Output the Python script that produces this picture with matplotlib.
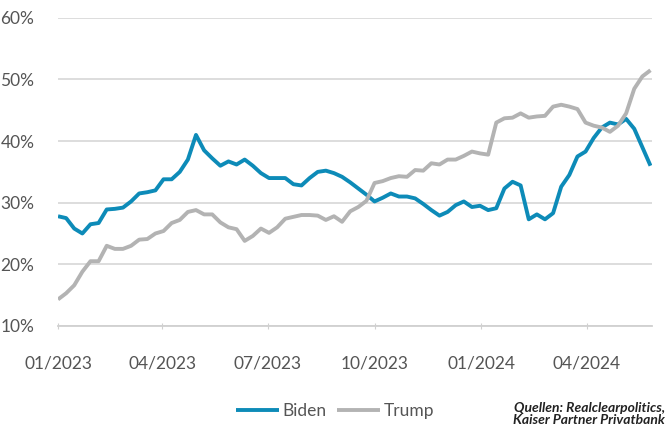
import numpy as np
import pandas as pd
import matplotlib
matplotlib.use("Agg")
import matplotlib.pyplot as plt
import matplotlib.dates as mdates
from matplotlib.ticker import FuncFormatter

plt.rcParams['font.family'] = ['Lato', 'DejaVu Sans']

# weekly poll values (%)
biden = [27.8, 27.5, 25.8, 25.0, 26.5, 26.7, 28.9, 29.0, 29.2, 30.2,
         31.5, 31.7, 32.0, 33.8, 33.8, 35.0, 37.0, 41.0, 38.5, 37.2,
         36.0, 36.7, 36.2, 37.0, 36.0, 34.8, 34.0, 34.0, 34.0, 33.0,
         32.8, 34.0, 35.0, 35.2, 34.8, 34.2, 33.3, 32.3, 31.3, 30.2,
         30.8, 31.5, 31.0, 31.0, 30.7, 29.8, 28.8, 27.9, 28.5, 29.6,
         30.2, 29.3, 29.5, 28.8, 29.1, 32.3, 33.4, 32.8, 27.3, 28.1,
         27.3, 28.3, 32.6, 34.5, 37.5, 38.3, 40.5, 42.2, 43.0, 42.7,
         43.6, 42.0, 39.0, 36.0]
trump = [14.3, 15.3, 16.6, 18.8, 20.5, 20.5, 23.0, 22.5, 22.5, 23.0,
         24.0, 24.1, 25.0, 25.4, 26.7, 27.2, 28.5, 28.8, 28.1, 28.1,
         26.8, 26.0, 25.7, 23.8, 24.6, 25.8, 25.1, 26.0, 27.4, 27.7,
         28.0, 28.0, 27.9, 27.2, 27.8, 26.9, 28.6, 29.3, 30.3, 33.2,
         33.5, 34.0, 34.3, 34.2, 35.3, 35.2, 36.4, 36.2, 37.0, 37.0,
         37.6, 38.3, 38.0, 37.8, 43.0, 43.7, 43.8, 44.5, 43.8, 44.0,
         44.1, 45.6, 45.9, 45.6, 45.2, 43.0, 42.5, 42.2, 41.5, 42.5,
         44.5, 48.5, 50.5, 51.5]
dates = pd.date_range("2023-01-01", periods=len(biden), freq="7D")

tick_dates = pd.to_datetime(["2023-01-01", "2023-04-01", "2023-07-01",
                             "2023-10-01", "2024-01-01", "2024-04-01"])
yticks = [10, 20, 30, 40, 50, 60]

fig = plt.figure(figsize=(6.7, 4.26), dpi=100)
ax = fig.add_axes([0.0866, 0.235, 0.886, 0.723])

ax.plot(dates, biden, color="#0d8bb8", lw=2.8, label="Biden", solid_capstyle="butt")
ax.plot(dates, trump, color="#b3b3b3", lw=2.8, label="Trump", solid_capstyle="butt")

ax.set_ylim(10, 60)
ax.set_yticks(yticks)
ax.yaxis.set_major_formatter(FuncFormatter(lambda v, p: f"{v:.0f}%"))
ax.set_xlim(dates[0], dates[-1] + pd.Timedelta(days=1))
ax.set_xticks(tick_dates)
ax.xaxis.set_major_formatter(mdates.DateFormatter("%m/%Y"))

ax.grid(axis="y", color="#dadada", lw=1.3)
ax.set_axisbelow(True)
for s in ["left", "right", "top"]:
    ax.spines[s].set_visible(False)
ax.spines["bottom"].set_color("#d0d0d0")
ax.spines["bottom"].set_linewidth(1.3)
ax.tick_params(axis="y", length=0, pad=17, labelsize=12.5, labelcolor="#555555")
ax.tick_params(axis="x", length=4, direction="inout", color="#d0d0d0",
               pad=19, labelsize=12.5, labelcolor="#555555")

fig.legend(loc="lower center", bbox_to_anchor=(0.5, -0.02), ncol=2, frameon=False,
           fontsize=12.5, handlelength=2.5, columnspacing=0.6, handletextpad=0.2,
           labelcolor="#555555")

fig.text(0.992, 0.0, "Quellen: Realclearpolitics,\nKaiser Partner Privatbank",
         ha="right", va="bottom", fontsize=10, style="italic", fontweight="bold",
         color="#222222", linespacing=1.05)

fig.savefig("out.png", dpi=100)
